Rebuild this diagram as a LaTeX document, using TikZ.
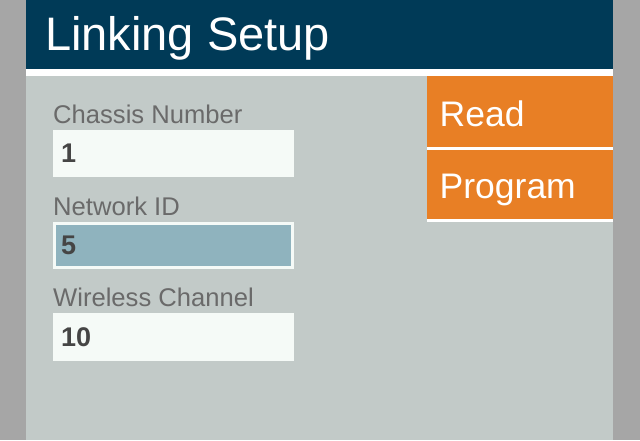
\documentclass[tikz,border=0pt]{standalone}
\usepackage{fontspec}
\setmainfont{Liberation Sans}
\definecolor{side}{HTML}{A6A6A6}
\definecolor{header}{HTML}{003A57}
\definecolor{panel}{HTML}{C2CAC8}
\definecolor{btn}{HTML}{E87F25}
\definecolor{field}{HTML}{F5FAF7}
\definecolor{fieldsel}{HTML}{8FB3BE}
\definecolor{lbl}{HTML}{6A6A6A}
\definecolor{val}{HTML}{454545}
\tikzset{
  lbltext/.style={anchor=base west, inner sep=0pt, text=lbl, font=\fontsize{25.6}{25.6}\selectfont},
  valtext/.style={anchor=base west, inner sep=0pt, text=val, font=\fontsize{27}{27}\selectfont\bfseries},
  btntext/.style={anchor=base west, inner sep=0pt, text=white, font=\fontsize{35.5}{35.5}\selectfont},
}
\begin{document}
\begin{tikzpicture}[x=1pt,y=-1pt]
\useasboundingbox (0,0) rectangle (640,440);
% side borders and background
\fill[side] (0,0) rectangle (640,440);
\fill[panel] (26,69) rectangle (613,440);
\fill[white] (26,69) rectangle (613,76);
\fill[header] (26,0) rectangle (613,69);
\node[anchor=base west, inner sep=0pt, text=white, font=\fontsize{47}{47}\selectfont] (title) at (45,50) {Linking Setup};
% buttons
\fill[white] (427,147) rectangle (613,222);
\fill[btn] (427,76) rectangle (613,147);
\fill[btn] (427,150) rectangle (613,219);
\node[btntext] (read) at (439.5,126) {Read};
\node[btntext] (program) at (439.5,198) {Program};
% fields
\node[lbltext] (l1) at (53,123) {Chassis Number};
\fill[field] (53,130) rectangle (294,177);
\node[valtext] (v1) at (61,162) {1};
\node[lbltext] (l2) at (53,215) {Network ID};
\fill[field] (53,222) rectangle (294,269);
\fill[fieldsel] (56,225) rectangle (291,266);
\node[valtext] (v2) at (61,254) {5};
\node[lbltext] (l3) at (53,306) {Wireless Channel};
\fill[field] (53,313) rectangle (294,361);
\node[valtext] (v3) at (61,346) {10};
\end{tikzpicture}
\end{document}
